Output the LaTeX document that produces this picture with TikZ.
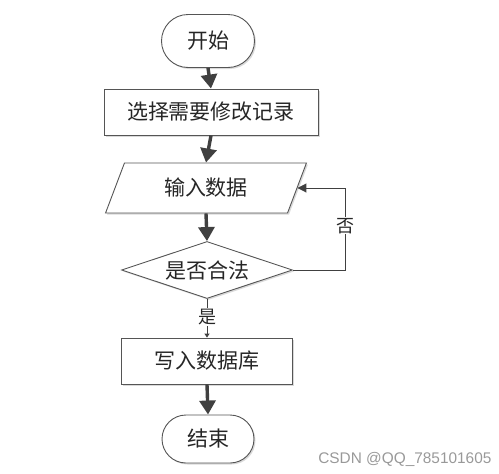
\documentclass[tikz,border=0pt]{standalone}
\usepackage{fontspec}
\newfontfamily\cjk{Noto Sans CJK SC}
\setsansfont{Liberation Sans}
\usetikzlibrary{shapes.geometric,shapes.misc,arrows.meta,shadows}
\definecolor{arr}{HTML}{404040}
\definecolor{edge}{HTML}{555555}
\tikzset{
  x=1pt,y=-1pt,
  base/.style={draw=edge,line width=0.9pt,fill=white,inner sep=0pt,
    font=\cjk\fontsize{21}{24}\selectfont,text=black!85,
    drop shadow={shadow xshift=1.5pt,shadow yshift=-1.5pt,fill=black!15,opacity=1}},
  term/.style={base,rounded rectangle},
  procbox/.style={base,rectangle},
  iobox/.style={base,trapezium,trapezium left angle=63.4,trapezium right angle=116.6,trapezium stretches=true},
  decbox/.style={base,diamond,aspect=3},
  mainarrow/.style={draw=arr,line width=3.4pt,-{Triangle[width=16pt,length=14pt]}},
  thinarrow/.style={draw=arr,line width=1pt},
  lab/.style={fill=white,inner sep=1pt,font=\cjk\fontsize{18}{20}\selectfont,text=black!85},
}
\begin{document}
\begin{tikzpicture}
\useasboundingbox (0,0) rectangle (499,474);
\node[term,minimum width=93pt,minimum height=53pt] (start) at (208,41) {开始};
\node[procbox,minimum width=214pt,minimum height=46pt] (sel) at (211,112) {选择需要修改记录};
\node[iobox,minimum width=201pt,minimum height=50pt] (inp) at (206,188) {输入数据};
\node[decbox,minimum width=171pt,minimum height=57pt] (dec) at (207,270) {是否合法};
\node[procbox,minimum width=171pt,minimum height=46pt] (wr) at (207,361) {写入数据库};
\node[term,minimum width=92pt,minimum height=48pt] (fin) at (208,439) {结束};
\coordinate (fb) at (345,270);
\draw[mainarrow] (start.south) -- (sel.north);
\draw[mainarrow] (sel.south) -- (inp.north);
\draw[mainarrow] (inp.south) -- (dec.north);
\draw[mainarrow] (wr.south) -- (fin.north);
\draw[thinarrow,-{Triangle[width=9pt,length=9pt]}] (dec.east) -- (fb) |- node[lab,pos=0.27] (no) {否} (inp.east);
\draw[thinarrow,-{Triangle[width=5pt,length=4pt]}] (dec.south) -- node[lab,pos=0.47] (yes) {是} (wr.north);
\node[anchor=east,font=\sffamily\fontsize{15.4}{18}\selectfont,text=black!40] (wm) at (495,459) {CSDN @QQ\_785101605};
\end{tikzpicture}
\end{document}
